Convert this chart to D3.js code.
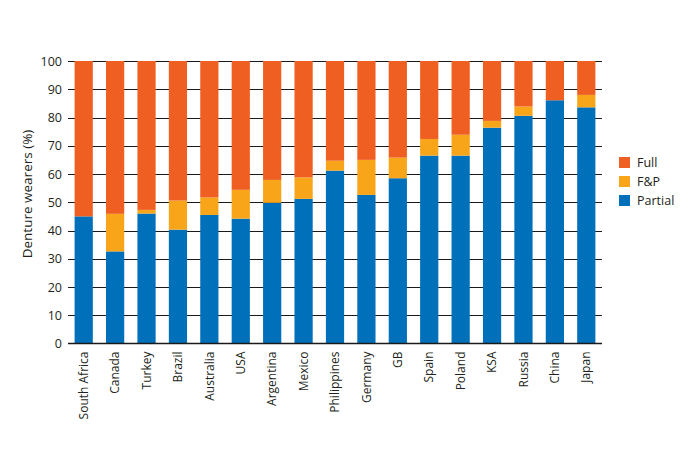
<!DOCTYPE html>
<html><head><meta charset="utf-8">
<script src="https://cdn.jsdelivr.net/npm/d3@7"></script>
<style>body{margin:0;background:#fff;} svg{display:block;font-family:"Open Sans",sans-serif;}</style>
</head><body><svg id="c" width="685" height="452"></svg>
<script>
const categories = ["South Africa","Canada","Turkey","Brazil","Australia","USA","Argentina","Mexico","Philippines","Germany","GB","Spain","Poland","KSA","Russia","China","Japan"];
const partial = [45.0,32.6,46.0,40.3,45.5,44.2,49.8,51.2,61.2,52.6,58.5,66.5,66.5,76.4,80.6,86.1,83.6];
const fp      = [0,13.3,1.3,10.3,6.2,10.2,8.1,7.6,3.5,12.4,7.3,5.9,7.4,2.4,3.3,0,4.4];
const seriesNames = ["Partial","F&P","Full"];
const yTicks = [0,10,20,30,40,50,60,70,80,90,100];
const colors = {"Partial":"#0070BA","F&P":"#F9A51A","Full":"#EF5F22"};

const rows = categories.map((c,i)=>({cat:c,"Partial":partial[i],"F&P":fp[i],"Full":100-partial[i]-fp[i]}));
const svg = d3.select("#c");
const x = d3.scaleBand().domain(categories).range([68,602]).paddingInner(0.42).paddingOuter(0.21);
const y = d3.scaleLinear().domain([0,100]).range([343.5,61]);

// gridlines
svg.append("g").selectAll("line").data(yTicks.filter(d=>d>0)).join("line")
  .attr("x1",68).attr("x2",602).attr("y1",d=>Math.round(y(d))+0.5).attr("y2",d=>Math.round(y(d))+0.5)
  .attr("stroke","#1a1a1a").attr("stroke-width",1);

const stack = d3.stack().keys(seriesNames)(rows);
svg.append("g").selectAll("g").data(stack).join("g").attr("fill",d=>colors[d.key])
  .selectAll("rect").data(d=>d).join("rect")
  .attr("x",d=>x(d.data.cat)).attr("width",x.bandwidth())
  .attr("y",d=>y(d[1])).attr("height",d=>Math.max(0,y(d[0])-y(d[1])));

// y axis labels
const yAxis = d3.axisLeft(y).tickValues(yTicks).tickSize(0).tickPadding(6);
const gy = svg.append("g").attr("transform","translate(68,0)").call(yAxis);
gy.select(".domain").remove();
gy.selectAll("text").attr("font-size",12.5).attr("fill","#231f20").attr("font-family","Open Sans");

// x axis
const xAxis = d3.axisBottom(x).tickSize(0).tickPadding(0);
const gx = svg.append("g").attr("transform","translate(0,343.5)").call(xAxis);
gx.select(".domain").attr("stroke","#1a1a1a").attr("stroke-width",1.5).attr("d","M68,0H602");
gx.selectAll("text").attr("font-size",12).attr("fill","#231f20").attr("font-family","Open Sans")
  .attr("text-anchor","end").attr("transform","rotate(-90)").attr("x",-8).attr("y",0).attr("dy","0.35em");

svg.append("text").attr("transform","translate(27,194) rotate(-90)").attr("text-anchor","middle")
  .attr("dy","0.35em").attr("font-size",13.5).attr("fill","#231f20").text("Denture wearers (%)");

// legend
const leg = ["Full","F&P","Partial"];
const lg = svg.append("g").selectAll("g").data(leg).join("g").attr("transform",(d,i)=>`translate(619,${157+i*19})`);
lg.append("rect").attr("width",11).attr("height",11).attr("fill",d=>colors[d]);
lg.append("text").attr("x",18).attr("y",6).attr("dy","0.35em").attr("font-size",12.5).attr("fill","#231f20").text(d=>d);
</script></body></html>
